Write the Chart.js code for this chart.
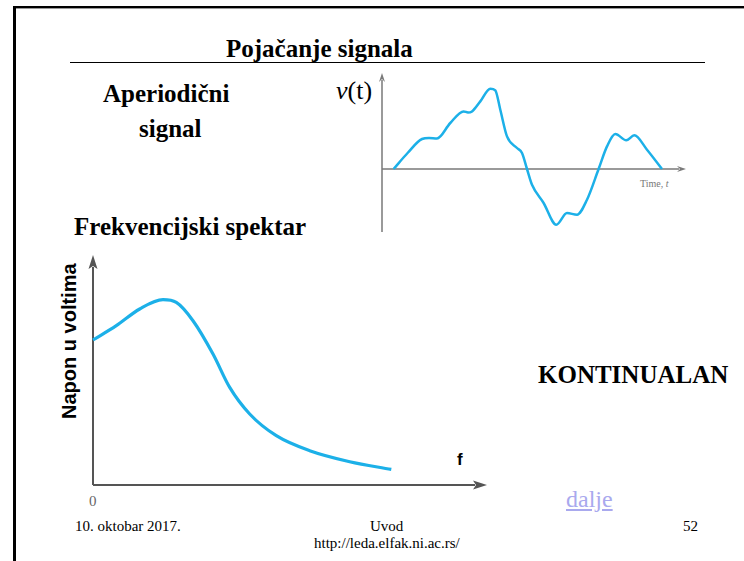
<!DOCTYPE html>
<html>
<head>
<meta charset="utf-8">
<script src="https://cdn.jsdelivr.net/npm/chart.js@4/dist/chart.umd.min.js"></script>
<style>
    html, body { margin: 0; padding: 0; background: #fff; }
    body { width: 744px; height: 561px; position: relative; overflow: hidden; font-family: "Liberation Serif", serif; }
    .t { position: absolute; white-space: nowrap; line-height: 1; }
    .b { font-weight: bold; }
    .box { position: absolute; }
</style>
</head>
<body>
<div style="position:absolute;left:13px;top:6px;width:731px;height:2px;background:#000;"></div>
<div style="position:absolute;left:13px;top:8px;width:731px;height:1px;background:#999;"></div>
<div style="position:absolute;left:13px;top:6px;width:3px;height:555px;background:#000;"></div>
<div style="position:absolute;left:70px;top:62px;width:635px;height:1px;background:#000;"></div>

<div class="t b" style="left:226px;top:36px;font-size:25px;">Pojačanje signala</div>
<div class="t b" style="left:103px;top:81px;font-size:25px;">Aperiodični</div>
<div class="t b" style="left:139px;top:116px;font-size:25px;">signal</div>
<div class="t" style="left:336px;top:78px;font-size:26px;"><i>v</i>(t)</div>
<div class="t b" style="left:74px;top:214px;font-size:25px;">Frekvencijski spektar</div>
<div class="t b" style="left:538px;top:362px;font-size:25px;">KONTINUALAN</div>
<div class="t" style="left:640px;top:179px;font-size:10px;color:#777;">Time, <i>t</i></div>
<div class="t b" style="left:59px;top:419px;font-size:20px;font-family:'Liberation Sans',sans-serif;transform:rotate(-90deg);transform-origin:0 0;">Napon u voltima</div>
<div class="t b" style="left:457px;top:451px;font-size:17px;font-family:'Liberation Sans',sans-serif;">f</div>
<div class="t" style="left:89px;top:494px;font-size:15px;color:#666;">0</div>
<div class="t" style="left:566px;top:487px;font-size:24px;color:#a9a9ee;text-decoration:underline;">dalje</div>
<div class="t" style="left:75px;top:519px;font-size:15px;">10. oktobar 2017.</div>
<div class="t" style="left:370px;top:519px;font-size:15px;">Uvod</div>
<div class="t" style="left:314px;top:536px;font-size:15px;">http://leda.elfak.ni.ac.rs/</div>
<div class="t" style="left:683px;top:519px;font-size:15px;">52</div>

<!-- boxes are 10px larger on each side than the plot area (layout padding) -->
<div class="box" style="left:372px;top:63px;width:324px;height:179px;"><canvas id="signal"></canvas></div>
<div class="box" style="left:83px;top:245px;width:414px;height:250px;"><canvas id="spectrum"></canvas></div>

<script>
// aperiodic signal v(t)
const timeValues = [11.6, 25.6, 40, 47, 55, 68.3, 81.6, 86, 90, 98.3, 108.3, 113.3, 118.3, 125, 135, 140, 145, 150, 161.6, 174.3, 185, 195, 205, 216.6, 225, 233.3, 244.3, 252.3, 265, 280];
const signalValues = [0, 16, 30, 31, 30.5, 46, 57.6, 56.5, 57.6, 67.6, 80.3, 78.6, 59.3, 32.6, 21, 16, 0, -15.7, -34, -55.7, -44, -45.7, -30.7, 0, 22.6, 35, 28.7, 33.7, 19.3, 0];

// frequency spectrum, voltage vs f
const freqValues = [0, 23.3, 46.7, 70, 83.3, 100, 120, 136.7, 156.7, 183.3, 216.7, 256.7, 298.3];
const voltValues = [145, 159.3, 176, 185.3, 182.6, 164.3, 131, 97.6, 71, 49.3, 34.3, 23.3, 15.6];

const curveColor = "#1cb0e8";

const points = (xs, ys) => xs.map((x, i) => ({ x, y: ys[i] }));

// draws the two arrowed axes through the origin
const arrowAxes = (color, width, headLength, headWidth) => ({
    id: "arrowAxes",
    beforeDatasetsDraw(chart) {
        const { ctx, scales: { x, y } } = chart;
        const x0 = x.getPixelForValue(0);
        const y0 = y.getPixelForValue(0);
        const xEnd = x.getPixelForValue(x.max);
        const yTop = y.getPixelForValue(y.max);
        const yBottom = y.getPixelForValue(y.min);
        ctx.save();
        ctx.strokeStyle = color;
        ctx.fillStyle = color;
        ctx.lineWidth = width;
        ctx.beginPath();
        ctx.moveTo(x0, yBottom);
        ctx.lineTo(x0, yTop + headLength - 2);
        ctx.moveTo(x0, y0);
        ctx.lineTo(xEnd - headLength + 2, y0);
        ctx.stroke();
        ctx.beginPath();
        ctx.moveTo(x0, yTop);
        ctx.lineTo(x0 - headWidth, yTop + headLength);
        ctx.lineTo(x0, yTop + headLength - 3);
        ctx.lineTo(x0 + headWidth, yTop + headLength);
        ctx.closePath();
        ctx.fill();
        ctx.beginPath();
        ctx.moveTo(xEnd, y0);
        ctx.lineTo(xEnd - headLength, y0 - headWidth);
        ctx.lineTo(xEnd - headLength + 3, y0);
        ctx.lineTo(xEnd - headLength, y0 + headWidth);
        ctx.closePath();
        ctx.fill();
        ctx.restore();
    }
});

const lineChart = (id, data, xMax, yMin, yMax, lineWidth, axes) => new Chart(document.getElementById(id), {
    type: "line",
    data: {
        datasets: [{
            data,
            borderColor: curveColor,
            borderWidth: lineWidth,
            pointRadius: 0,
            cubicInterpolationMode: "monotone",
            clip: false,
            fill: false,
        }],
    },
    options: {
        responsive: true,
        maintainAspectRatio: false,
        animation: false,
        layout: { padding: 10 },
        plugins: { legend: { display: false }, tooltip: { enabled: false } },
        scales: {
            x: { type: "linear", min: 0, max: xMax, display: false },
            y: { type: "linear", min: yMin, max: yMax, display: false },
        },
    },
    plugins: [axes],
});

lineChart("signal", points(timeValues, signalValues), 304, -63, 96, 2.5, arrowAxes("#7a7a7a", 1.5, 9, 3));
lineChart("spectrum", points(freqValues, voltValues), 394, 0, 230, 3.2, arrowAxes("#555", 2, 14, 4.5));
</script>
</body>
</html>
